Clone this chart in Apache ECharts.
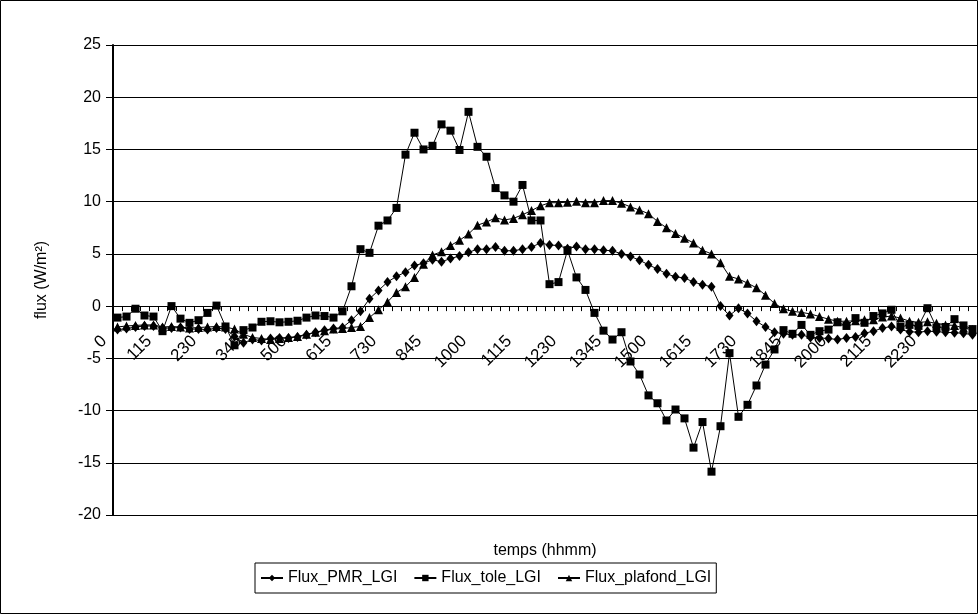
<!DOCTYPE html>
<html>
<head>
<meta charset="utf-8">
<script src="https://cdn.jsdelivr.net/npm/echarts@6/dist/echarts.min.js"></script>
<style>
  html, body { margin: 0; padding: 0; background: #fff; }
  #chart { width: 978px; height: 614px; }
</style>
</head>
<body>
<div id="chart"></div>
<script>
// Time of day (hhmm), one sample every 15 minutes
const times = [
  '0','15','30','45','100','115','130','145','200','215','230','245',
  '300','315','330','345','400','415','430','445','500','515','530','545',
  '600','615','630','645','700','715','730','745','800','815','830','845',
  '900','915','930','945','1000','1015','1030','1045','1100','1115','1130','1145',
  '1200','1215','1230','1245','1300','1315','1330','1345','1400','1415','1430','1445',
  '1500','1515','1530','1545','1600','1615','1630','1645','1700','1715','1730','1745',
  '1800','1815','1830','1845','1900','1915','1930','1945','2000','2015','2030','2045',
  '2100','2115','2130','2145','2200','2215','2230','2245','2300','2315','2330','2345'
];

// Heat flux, W/m²
const fluxPMR = [
  -2.25,-2.15,-2.0,-1.9,-1.9,-2.1,-2.1,-2.05,-2.2,-2.2,-2.25,-2.1,
  -2.2,-2.9,-3.5,-3.2,-3.3,-3.1,-3.05,-3.05,-2.95,-2.75,-2.5,-2.3,
  -2.15,-2.05,-1.35,-0.5,0.7,1.5,2.3,2.85,3.25,3.9,4.1,4.45,
  4.25,4.55,4.8,5.15,5.45,5.45,5.65,5.3,5.3,5.45,5.65,6.05,
  5.85,5.8,5.5,5.7,5.45,5.45,5.35,5.3,5.0,4.75,4.4,3.95,
  3.55,3.1,2.8,2.7,2.3,2.05,1.85,0.0,-0.9,-0.2,-0.7,-1.45,
  -2.0,-2.5,-2.65,-2.75,-2.75,-3.0,-3.05,-3.1,-3.2,-3.05,-2.95,-2.6,
  -2.4,-2.1,-1.95,-2.25,-2.45,-2.5,-2.4,-2.45,-2.5,-2.55,-2.6,-2.75
];

const fluxTole = [
  -1.1,-1.0,-0.25,-0.9,-1.0,-2.4,0.0,-1.2,-1.6,-1.35,-0.65,0.05,
  -1.95,-3.75,-2.3,-2.05,-1.5,-1.45,-1.55,-1.5,-1.4,-1.1,-0.9,-0.95,
  -1.1,-0.5,1.9,5.45,5.1,7.7,8.2,9.4,14.5,16.6,15.0,15.35,
  17.4,16.8,14.95,18.6,15.25,14.3,11.3,10.6,10.0,11.6,8.2,8.2,
  2.1,2.3,5.35,2.75,1.55,-0.65,-2.35,-3.2,-2.5,-5.3,-6.55,-8.55,
  -9.3,-10.95,-9.9,-10.75,-13.55,-11.1,-15.85,-11.5,-4.5,-10.6,-9.45,-7.6,
  -5.6,-4.15,-2.3,-2.65,-1.8,-2.75,-2.4,-2.25,-1.55,-1.9,-1.15,-1.6,
  -0.95,-0.7,-0.35,-2.0,-1.8,-1.9,-0.2,-2.05,-2.0,-1.25,-1.85,-2.2
];

const fluxPlafond = [
  -2.0,-1.9,-1.85,-1.8,-1.8,-2.0,-1.95,-2.0,-2.1,-2.05,-2.0,-1.95,
  -2.0,-2.2,-2.7,-3.0,-3.1,-3.2,-3.1,-3.0,-2.9,-2.7,-2.5,-2.35,
  -2.2,-2.15,-2.05,-1.95,-1.1,-0.35,0.4,1.3,1.85,2.75,4.0,4.9,
  5.2,5.8,6.3,6.9,7.75,8.05,8.45,8.25,8.4,8.75,9.15,9.6,
  9.9,9.9,9.95,10.05,9.9,9.9,10.1,10.1,9.85,9.5,9.2,8.85,
  8.1,7.5,6.95,6.5,6.05,5.35,5.0,4.15,2.85,2.6,2.2,1.75,
  1.05,0.25,-0.25,-0.5,-0.6,-0.75,-1.0,-1.25,-1.45,-1.45,-1.4,-1.3,
  -1.3,-1.05,-0.95,-1.15,-1.45,-1.55,-1.5,-1.65,-1.8,-1.85,-2.1,-2.25
];

const FONT = "'Liberation Sans', Arial, sans-serif";

// Plot area geometry
const GRID = { left: 113, right: 1, top: 45, bottom: 99 };
const Y_MIN = -20, Y_MAX = 25;
const plotHeight = 614 - GRID.top - GRID.bottom;
// The time axis crosses the flux axis at 0
const zeroOffset = plotHeight * (0 - Y_MIN) / (Y_MAX - Y_MIN);

// Every fifth time is labelled; the last slot, at the right edge, stays bare
const LABEL_STEP = 5;
const showTimeLabel = (idx) => idx % LABEL_STEP === 0 && idx < times.length - 1;

const chart = echarts.init(document.getElementById('chart'), null, { renderer: 'canvas' });

function lineSeries(name, data, symbol, size) {
  return {
    name: name,
    type: 'line',
    data: data,
    symbol: symbol,
    symbolSize: size,
    showAllSymbol: true,
    lineStyle: { color: '#000', width: 1 },
    itemStyle: { color: '#000', borderColor: '#000', borderWidth: 0 },
    emphasis: { disabled: true }
  };
}

chart.setOption({
  animation: false,
  backgroundColor: '#fff',
  textStyle: { fontFamily: FONT, color: '#000' },
  grid: Object.assign({ containLabel: false }, GRID),
  xAxis: {
    type: 'category',
    data: times,
    boundaryGap: true,
    offset: -zeroOffset,
    axisLine: { onZero: false, lineStyle: { color: '#000', width: 1 } },
    axisTick: { show: true, interval: 0, length: 5, lineStyle: { color: '#000' } },
    axisLabel: {
      interval: showTimeLabel,
      rotate: 45,
      margin: 19,
      padding: [0, 19, 0, 0],
      fontFamily: FONT,
      fontSize: 17,
      color: '#000'
    },
    splitLine: { show: false }
  },
  yAxis: {
    type: 'value',
    min: Y_MIN,
    max: Y_MAX,
    interval: 5,
    name: 'flux (W/m²)',
    nameLocation: 'middle',
    nameRotate: 90,
    nameGap: 63,
    nameTextStyle: { fontFamily: FONT, fontSize: 16, color: '#000' },
    axisLine: { show: true, lineStyle: { color: '#000', width: 2 } },
    axisTick: { show: true, length: 7, lineStyle: { color: '#000' } },
    axisLabel: { margin: 12, fontFamily: FONT, fontSize: 16, color: '#000' },
    splitLine: { show: true, lineStyle: { color: '#000', width: 1 } }
  },
  legend: {
    left: 255,
    top: 563,
    orient: 'horizontal',
    borderColor: '#000',
    borderWidth: 1,
    padding: [7, 5, 7, 5],
    itemGap: 16,
    itemWidth: 22,
    itemHeight: 8,
    textStyle: { fontFamily: FONT, fontSize: 16, color: '#000' },
    data: ['Flux_PMR_LGI', 'Flux_tole_LGI', 'Flux_plafond_LGI']
  },
  graphic: [
    {
      type: 'rect',
      shape: { x: 0.5, y: 0.5, width: 977, height: 613 },
      style: { fill: 'none', stroke: '#000', lineWidth: 1 },
      silent: true
    },
    {
      type: 'text',
      x: 545,
      y: 551,
      style: {
        text: 'temps (hhmm)', fontFamily: FONT, fontSize: 16, fill: '#000',
        align: 'center', verticalAlign: 'middle'
      },
      silent: true
    }
  ],
  series: [
    lineSeries('Flux_PMR_LGI', fluxPMR, 'diamond', [8, 10]),
    lineSeries('Flux_tole_LGI', fluxTole, 'rect', 8),
    lineSeries('Flux_plafond_LGI', fluxPlafond, 'triangle', 9)
  ]
});
</script>
</body>
</html>
